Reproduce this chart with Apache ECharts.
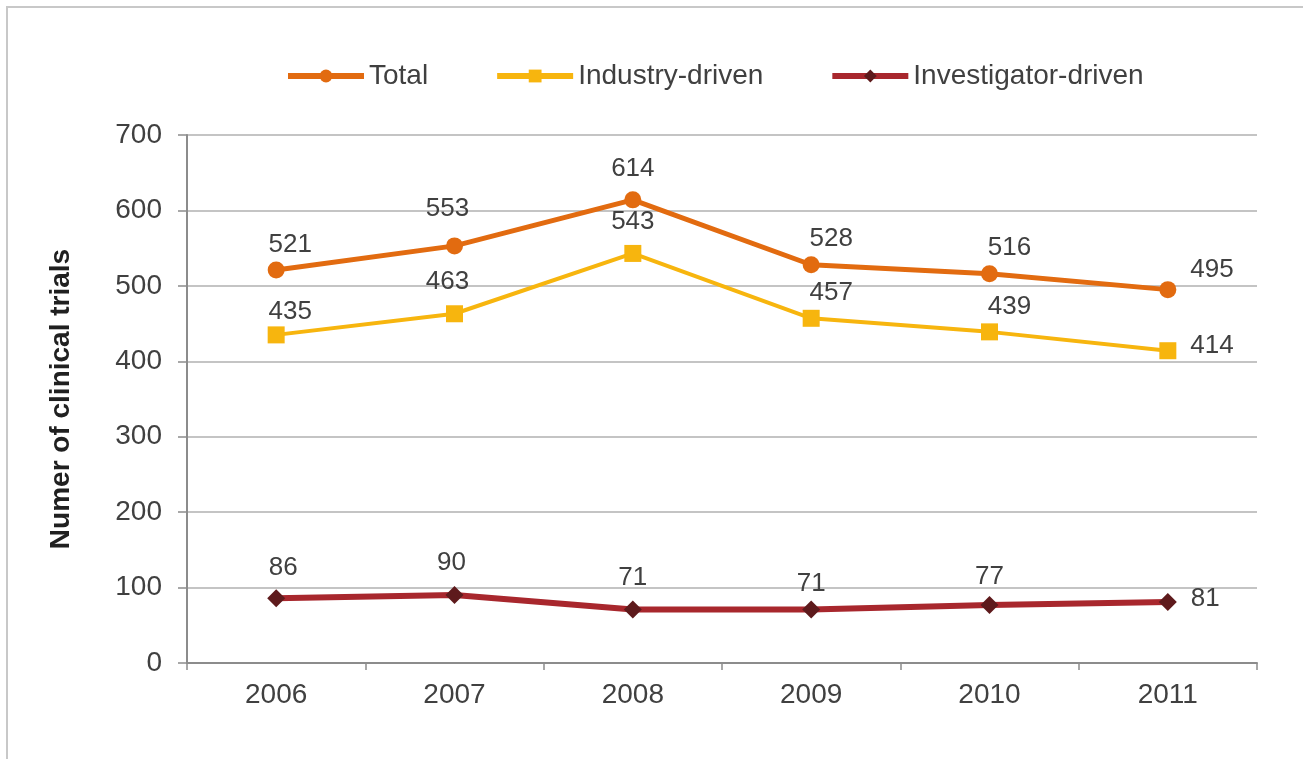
<!DOCTYPE html>
<html>
<head>
<meta charset="utf-8">
<script src="https://cdn.jsdelivr.net/npm/echarts@6/dist/echarts.min.js"></script>
<style>
  html, body { margin: 0; padding: 0; background: #fff; }
  #chart { width: 1303px; height: 759px; }
</style>
</head>
<body>
<div id="chart"></div>
<script>
// Clinical trials per year, by sponsor type
const years = ['2006', '2007', '2008', '2009', '2010', '2011'];
const totalTrials = [521, 553, 614, 528, 516, 495];
const industryTrials = [435, 463, 543, 457, 439, 414];
const investigatorTrials = [86, 90, 71, 71, 77, 81];
const yTicks = [0, 100, 200, 300, 400, 500, 600, 700];

const textColor = '#404040';
const font = 'Liberation Sans, Arial, sans-serif';

// hand-placed nudges [dx, dy] for the value labels of each series
const totalNudge = [[14, 6], [-7, -6], [0, 0], [20, 6], [20, 6], [0, -20]];
const industryNudge = [[14, 8], [-7, 0], [0, 0], [20, 6], [20, 6], [0, -5]];
const investigatorNudge = [[7, 2], [-3, 0], [0, 0], [0, 6], [0, 4], [0, -3]];

function withLabels(values, nudge) {
  return values.map((v, i) => {
    const last = i === values.length - 1;
    return {
      value: v,
      label: last
        ? { position: 'right', distance: 14, offset: nudge[i] }
        : { offset: nudge[i] }
    };
  });
}

const labelStyle = {
  show: true,
  position: 'top',
  distance: 10,
  color: textColor,
  fontFamily: font,
  fontSize: 26
};

const chart = echarts.init(document.getElementById('chart'), null, { renderer: 'canvas' });
chart.setOption({
  backgroundColor: '#fff',
  animation: false,
  graphic: [{
    type: 'rect',
    shape: { x: 7, y: 7, width: 1320, height: 780 },
    style: { fill: 'none', stroke: '#c8c8c8', lineWidth: 2 },
    silent: true
  }],
  legend: {
    top: 57,
    left: 280,
    itemWidth: 76,
    itemHeight: 16,
    itemGap: 66,
    lineStyle: { width: 6 },
    textStyle: { color: textColor, fontFamily: font, fontSize: 28 },
    data: ['Total', 'Industry-driven', 'Investigator-driven']
  },
  grid: { left: 187, right: 46, top: 135, bottom: 96, containLabel: false },
  xAxis: {
    type: 'category',
    data: years,
    boundaryGap: true,
    axisLine: { lineStyle: { color: '#8c8c8c', width: 2 } },
    axisTick: { show: true, length: 7, alignWithLabel: false, lineStyle: { color: '#8c8c8c', width: 1.5 } },
    axisLabel: { color: textColor, fontFamily: font, fontSize: 28, margin: 18 }
  },
  yAxis: {
    type: 'value',
    min: yTicks[0],
    max: yTicks[yTicks.length - 1],
    interval: 100,
    name: 'Numer of clinical trials',
    nameLocation: 'middle',
    nameGap: 112,
    nameRotate: 90,
    nameTextStyle: { color: '#202020', fontFamily: font, fontSize: 28, fontWeight: 'bold' },
    axisLine: { show: true, lineStyle: { color: '#8c8c8c', width: 2 } },
    axisTick: { show: true, length: 9, inside: false, lineStyle: { color: '#8c8c8c', width: 1.5 } },
    splitLine: { lineStyle: { color: '#c4c4c4', width: 2 } },
    axisLabel: { color: textColor, fontFamily: font, fontSize: 28, margin: 25 }
  },
  series: [
    {
      name: 'Total',
      type: 'line',
      data: withLabels(totalTrials, totalNudge),
      symbol: 'circle',
      symbolSize: 17,
      lineStyle: { color: '#E26B10', width: 5 },
      itemStyle: { color: '#E26B10' },
      label: labelStyle,
      z: 3
    },
    {
      name: 'Industry-driven',
      type: 'line',
      data: withLabels(industryTrials, industryNudge),
      symbol: 'rect',
      symbolSize: 17,
      lineStyle: { color: '#F7B50E', width: 4 },
      itemStyle: { color: '#F7B50E' },
      label: labelStyle,
      z: 2
    },
    {
      name: 'Investigator-driven',
      type: 'line',
      data: withLabels(investigatorTrials, investigatorNudge),
      symbol: 'diamond',
      symbolSize: 18,
      lineStyle: { color: '#A8272D', width: 6 },
      itemStyle: { color: '#5E1A1C' },
      label: labelStyle,
      z: 4
    }
  ]
});
</script>
</body>
</html>
